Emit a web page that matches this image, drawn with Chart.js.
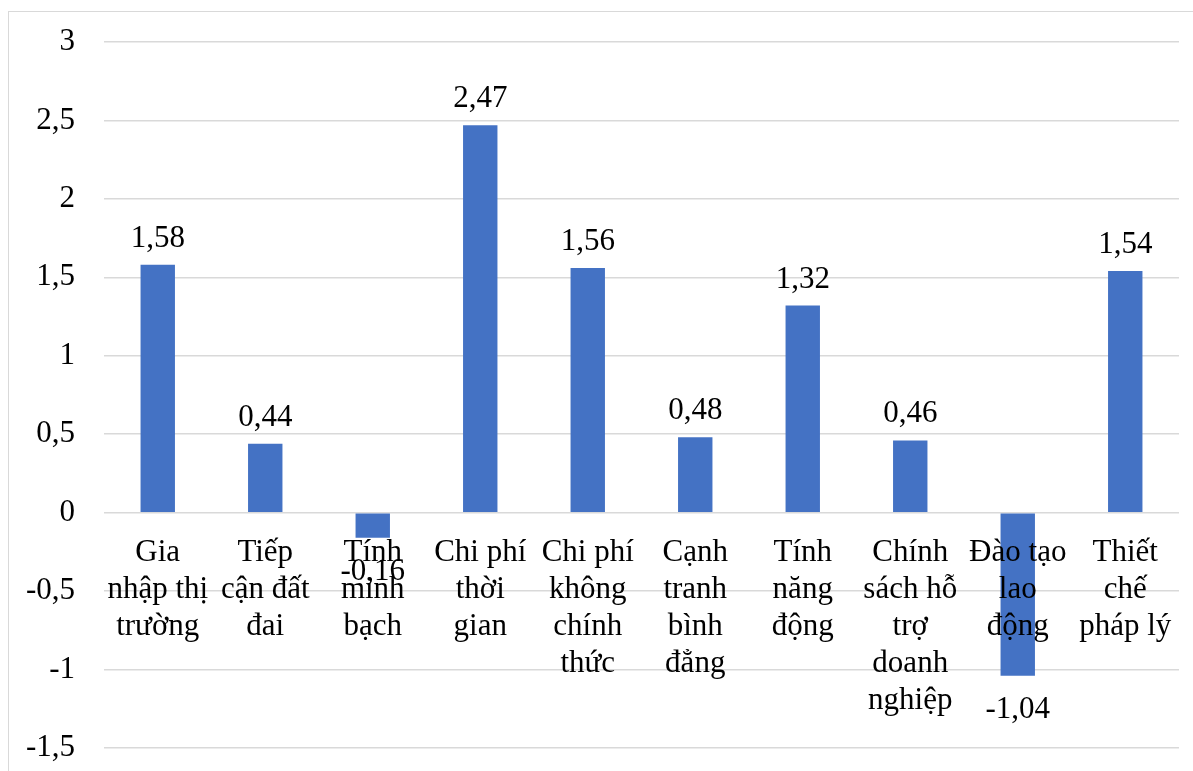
<!DOCTYPE html>
<html>
<head>
<meta charset="utf-8">
<script src="https://cdn.jsdelivr.net/npm/chart.js@4.4.1/dist/chart.umd.min.js"></script>
<style>
    html, body { margin: 0; padding: 0; background: #fff; overflow: hidden; }
    #frame { position: absolute; left: 8px; top: 11px; width: 1300px; height: 900px; border: 1px solid #d9d9d9; }
    #wrap { position: absolute; left: 0; top: 0; width: 1193px; height: 771px; }
</style>
</head>
<body>
<div id="frame"></div>
<div id="wrap"><canvas id="chart"></canvas></div>
<script>
// Categories, pre-wrapped like the original
const categories = [
    ['Gia', 'nhập thị', 'trường'],
    ['Tiếp', 'cận đất', 'đai'],
    ['Tính', 'minh', 'bạch'],
    ['Chi phí', 'thời', 'gian'],
    ['Chi phí', 'không', 'chính', 'thức'],
    ['Cạnh', 'tranh', 'bình', 'đẳng'],
    ['Tính', 'năng', 'động'],
    ['Chính', 'sách hỗ', 'trợ', 'doanh', 'nghiệp'],
    ['Đào tạo', 'lao', 'động'],
    ['Thiết', 'chế', 'pháp lý']
];
const values = [1.58, 0.44, -0.16, 2.47, 1.56, 0.48, 1.32, 0.46, -1.04, 1.54];
const yMin = -1.5;
const yMax = 3;
const yStep = 0.5;

const FONT = '"Liberation Serif", "Times New Roman", serif';
const FONT_SIZE = 31;

const fmt = v => String(Math.round(v * 100) / 100).replace('.', ',');

// Data labels above/below bars and category labels hanging under the zero line
const labelsPlugin = {
    id: 'barLabels',
    afterDatasetsDraw(chart) {
        const ctx = chart.ctx;
        const x = chart.scales.x;
        const y = chart.scales.y;
        const y0 = y.getPixelForValue(0);
        const meta = chart.getDatasetMeta(0);

        ctx.save();
        ctx.fillStyle = '#000';
        ctx.font = FONT_SIZE + 'px ' + FONT;
        ctx.textAlign = 'center';
        ctx.textBaseline = 'alphabetic';

        // category names
        categories.forEach((lines, i) => {
            const cx = x.getPixelForValue(i);
            lines.forEach((line, j) => {
                ctx.fillText(line, cx, y0 + 48 + j * 37);
            });
        });

        // values
        meta.data.forEach((bar, i) => {
            const v = values[i];
            const ty = v >= 0 ? bar.y - 18 : bar.y + 42;
            ctx.fillText(fmt(v), bar.x, ty);
        });
        ctx.restore();
    }
};

new Chart(document.getElementById('chart'), {
    type: 'bar',
    data: {
        labels: categories.map(c => c.join(' ')),
        datasets: [{
            data: values,
            backgroundColor: '#4472c4',
            borderWidth: 0,
            categoryPercentage: 1,
            barPercentage: 0.32
        }]
    },
    plugins: [labelsPlugin],
    options: {
        responsive: true,
        maintainAspectRatio: false,
        animation: false,
        layout: {
            padding: { left: 0, right: 14, top: 42, bottom: 23 }
        },
        scales: {
            x: {
                display: false
            },
            y: {
                min: yMin,
                max: yMax,
                afterFit(scale) {
                    scale.width = 104;
                    // tick padding should not push the plot area in vertically
                    scale.paddingTop = 0;
                    scale.paddingBottom = 0;
                },
                ticks: {
                    stepSize: yStep,
                    padding: 29,
                    color: '#000',
                    font: { family: FONT, size: FONT_SIZE },
                    callback: v => fmt(v)
                },
                grid: {
                    color: '#d9d9d9',
                    lineWidth: 1.5,
                    drawTicks: false
                },
                border: { display: false }
            }
        },
        plugins: {
            legend: { display: false },
            tooltip: { enabled: false }
        }
    }
});
</script>
</body>
</html>
